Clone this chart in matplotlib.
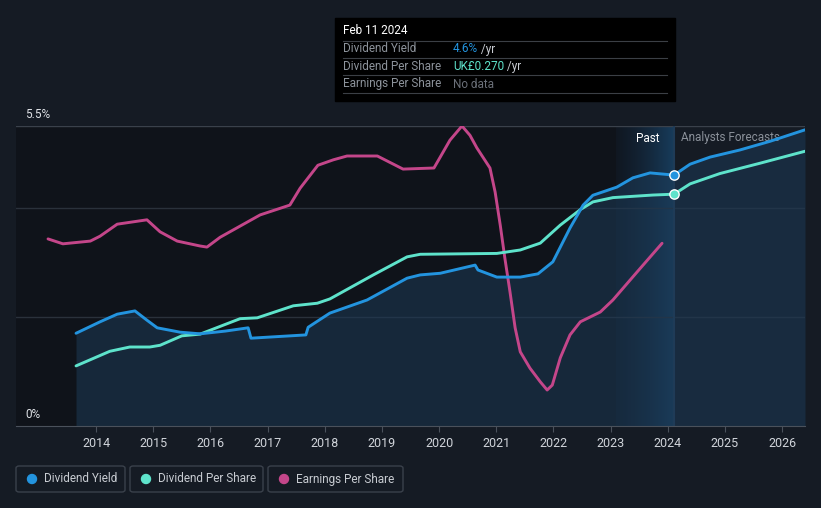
import numpy as np
import matplotlib
matplotlib.use("Agg")
import matplotlib.pyplot as plt
from matplotlib.patches import FancyBboxPatch, Rectangle

# --- data (year, value) ---
yield_years = [2013.65, 2014.07, 2014.37, 2014.68, 2014.89, 2015.07, 2015.47, 2015.82,
               2016.26, 2016.66, 2016.71, 2017.67, 2017.71, 2018.09, 2018.74, 2019.44,
               2019.67, 2020.02, 2020.63, 2020.68, 2021.01, 2021.42, 2021.73, 2021.99,
               2022.29, 2022.52, 2022.69, 2023.11, 2023.39, 2023.69, 2024.11,
               2024.39, 2024.74, 2025.26, 2025.79, 2026.40]
yield_pct = [1.70, 1.91, 2.05, 2.11, 1.94, 1.80, 1.72, 1.69,
             1.74, 1.80, 1.61, 1.67, 1.81, 2.07, 2.31, 2.71,
             2.77, 2.80, 2.95, 2.86, 2.73, 2.73, 2.79, 3.01,
             3.63, 4.05, 4.23, 4.38, 4.55, 4.64, 4.60,
             4.80, 4.93, 5.06, 5.22, 5.43]

dps_years = [2013.65, 2014.24, 2014.59, 2014.94, 2015.12, 2015.50, 2015.82, 2016.52,
             2016.82, 2017.45, 2017.87, 2018.09, 2018.85, 2019.44, 2019.67, 2021.01,
             2021.42, 2021.77, 2022.12, 2022.47, 2022.69, 2023.04, 2023.74, 2024.11,
             2024.39, 2024.91, 2025.61, 2026.40]
dps_gbp = [0.070, 0.087, 0.092, 0.092, 0.094, 0.105, 0.107, 0.125,
           0.126, 0.140, 0.143, 0.148, 0.176, 0.197, 0.200, 0.201,
           0.205, 0.213, 0.234, 0.252, 0.261, 0.266, 0.269, 0.270,
           0.282, 0.294, 0.306, 0.320]

eps_years = [2013.16, 2013.42, 2013.90, 2014.07, 2014.37, 2014.89, 2015.12, 2015.42,
             2015.82, 2015.94, 2016.17, 2016.87, 2017.39, 2017.57, 2017.88, 2018.15,
             2018.39, 2018.92, 2019.37, 2019.91, 2020.02, 2020.19, 2020.40, 2020.54,
             2020.66, 2020.89, 2020.98, 2021.07, 2021.15, 2021.24, 2021.33, 2021.42,
             2021.59, 2021.77, 2021.89, 2021.98, 2022.12, 2022.29, 2022.47, 2022.82,
             2023.04, 2023.46, 2023.90]
eps_rel = [3.43, 3.34, 3.39, 3.48, 3.70, 3.78, 3.56, 3.39,
           3.30, 3.28, 3.46, 3.87, 4.05, 4.36, 4.78, 4.88,
           4.95, 4.95, 4.71, 4.73, 4.93, 5.24, 5.50, 5.33,
           5.10, 4.73, 4.29, 3.68, 3.08, 2.46, 1.80, 1.36,
           1.06, 0.81, 0.66, 0.75, 1.25, 1.67, 1.91, 2.09,
           2.31, 2.82, 3.35]

years = list(range(2014, 2027))
now = 2024.11
past_start = 2023.1
dps_scale = 0.270 / 4.25  # GBP per axis unit

BG = "#151b24"
BLUE = "#2394df"
TEAL = "#5ee3cb"
PINK = "#c4468a"

fig = plt.figure(figsize=(8.21, 5.08), dpi=100, facecolor=BG)
ax = fig.add_axes([16 / 821, 82 / 508, 789 / 821, 300 / 508])
ax.set_facecolor(BG)
ax.set_xlim(2012.60, 2026.40)
ax.set_ylim(0, 5.5)

# dark past area
ax.add_patch(Rectangle((2012.60, 0), now - 2012.60, 5.5, color="#0f131a", zorder=0, lw=0))
# gradient band "Past"
grad = np.linspace(0, 1, 200).reshape(1, -1)
ax.imshow(grad, extent=[past_start, now, 0, 5.5], aspect="auto", cmap=matplotlib.colors.LinearSegmentedColormap.from_list(
    "b", [(0.10, 0.25, 0.40, 0.10), (0.13, 0.40, 0.62, 0.50)]), zorder=0.5)

# gridlines
for g in [2.0, 4.0]:
    ax.axhline(g, color="#2a313b", lw=1, zorder=1)
ax.axhline(5.5, color="#3a414b", lw=1, zorder=1)

ax.fill_between(yield_years, yield_pct, 0, color="#1c3a56", alpha=0.55, lw=0, zorder=1.5)
ax.axvline(now, color="#1f3b57", lw=1.5, ymax=1.0, zorder=1.6)

dps_plot = [v / dps_scale for v in dps_gbp]
ax.plot(eps_years, eps_rel, color=PINK, lw=2.1, zorder=3, solid_capstyle="round", solid_joinstyle="round")
ax.plot(dps_years, dps_plot, color=TEAL, lw=2.1, zorder=3, solid_capstyle="round", solid_joinstyle="round")
ax.plot(yield_years, yield_pct, color=BLUE, lw=2.1, zorder=4, solid_capstyle="round", solid_joinstyle="round")
ax.scatter([now], [4.60], s=45, color=BLUE, edgecolor="white", lw=1, zorder=5)
ax.scatter([now], [0.270 / dps_scale], s=45, color=TEAL, edgecolor="white", lw=1, zorder=5)

for s in ["top", "right", "left"]:
    ax.spines[s].set_visible(False)
ax.spines["bottom"].set_color("#4a515b")
ax.set_yticks([])
ax.set_xticks(years)
ax.set_xticklabels([str(y) for y in years], color="#d0d4da", fontsize=9,
                   family=["Liberation Sans Narrow", "Roboto", "DejaVu Sans"])
ax.tick_params(axis="x", colors="#4a515b", length=4, labelcolor="#d0d4da", pad=4)

ax.text(25 / 821, 1 - 114 / 508, "5.5%", transform=fig.transFigure, color="#e0e3e8",
        fontsize=8.5, va="center", family="Roboto")
ax.text(25 / 821, 1 - 414 / 508, "0%", transform=fig.transFigure, color="#e0e3e8",
        fontsize=8.5, va="center", family="Roboto")

ax.text(now - 0.25, 5.28, "Past", color="white", fontsize=8.5, ha="right", va="center", family="Roboto")
ax.text(now + 0.12, 5.28, "Analysts Forecasts", color="#8a9099", fontsize=8.5, ha="left",
        va="center", family="Roboto")

# tooltip
fx = lambda px: px / 821
fy = lambda py: 1 - py / 508
fig.patches.append(Rectangle((fx(335), fy(101)), fx(675) - fx(335), fy(18) - fy(101),
                             transform=fig.transFigure, color="black", zorder=10))
fig.text(fx(343), fy(31), "Feb 11 2024", color="white", fontsize=8.5, va="center",
         family="Roboto", zorder=11)
for ly in [41, 58, 75, 93]:
    fig.lines.append(plt.Line2D([fx(343), fx(667)], [fy(ly), fy(ly)], transform=fig.transFigure,
                                color="#3b3f45", lw=0.8, zorder=11))
rows = [("Dividend Yield", "4.6%", BLUE, " /yr"),
        ("Dividend Per Share", "UK£0.270", TEAL, " /yr"),
        ("Earnings Per Share", "No data", "#6b7079", "")]
for i, (lab, val, col, suf) in enumerate(rows):
    yy = fy(49 + i * 17.5)
    fig.text(fx(343), yy, lab, color="#8d939b", fontsize=8.5, va="center", family="Roboto", zorder=11)
    t = fig.text(fx(453), yy, val, color=col, fontsize=8.5, va="center", family="Roboto", zorder=11)
    if suf:
        fig.canvas.draw()
        bb = t.get_window_extent()
        fig.text(bb.x1 / 821, yy, suf, color="#c8ccd2", fontsize=8.5, va="center",
                 family="Roboto", zorder=11)

# legend
items = [("Dividend Yield", BLUE, 16, 125), ("Dividend Per Share", TEAL, 130, 263),
         ("Earnings Per Share", PINK, 268, 403)]
for lab, col, x0, x1 in items:
    fig.patches.append(FancyBboxPatch((fx(x0), fy(492)), fx(x1) - fx(x0), fy(466) - fy(492),
                                      boxstyle="round,pad=0,rounding_size=0.004",
                                      transform=fig.transFigure, facecolor="none",
                                      edgecolor="#3a414b", lw=1))
    fig.patches.append(matplotlib.patches.Ellipse((fx(x0 + 16), fy(479)), 9 / 821, 9 / 508,
                                                  transform=fig.transFigure, color=col))
    fig.text(fx(x0 + 28), fy(479), lab, color="#c8ccd2", fontsize=8.5, va="center", family="Roboto")

fig.savefig("out.png", dpi=100, facecolor=BG)
